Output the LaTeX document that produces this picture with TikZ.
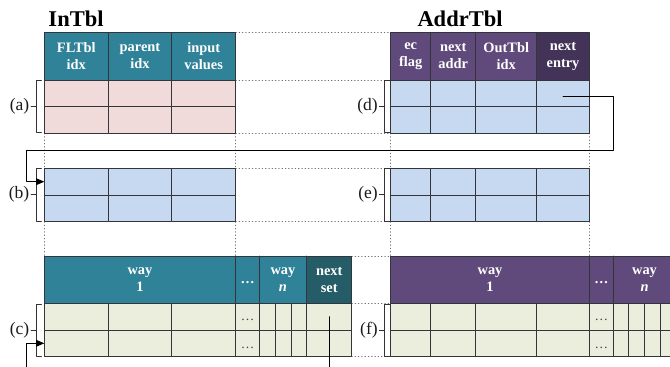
\documentclass[tikz,border=0pt]{standalone}
\usepackage{fontspec}
\newfontfamily\tblfont{Liberation Serif}
\usetikzlibrary{arrows}
\usetikzlibrary{positioning}

\definecolor{inhead}{RGB}{47,130,152}
\definecolor{inheaddk}{RGB}{36,92,104}
\definecolor{addrhead}{RGB}{96,74,124}
\definecolor{addrheaddk}{RGB}{67,51,88}
\definecolor{pinkrow}{RGB}{240,218,218}
\definecolor{bluerow}{RGB}{198,217,240}
\definecolor{greenrow}{RGB}{235,238,221}
\definecolor{gridln}{RGB}{50,54,58}

\tikzset{
  hdr/.style={text=white,font=\tblfont\bfseries\fontsize{14.4}{16.7}\selectfont,align=center,inner sep=0pt},
  hdots/.style={text=white,font=\tblfont\bfseries\fontsize{14}{15}\selectfont,inner sep=0pt},
  rdots/.style={text=black!75,font=\tblfont\fontsize{13.5}{15}\selectfont,inner sep=0pt},
  ttl/.style={font=\tblfont\bfseries\fontsize{22.5}{24}\selectfont,anchor=base west,inner sep=0pt},
  lbl/.style={font=\tblfont\fontsize{17.5}{20}\selectfont,inner sep=0pt,text=black!90},
  gridl/.style={draw=gridln,line width=0.9pt},
  guide/.style={draw=black!55,line width=0.7pt,dash pattern=on 0.7pt off 2.6pt},
  brk/.style={draw=black!80,line width=0.8pt},
  link/.style={->,line width=0.9pt},
}

\begin{document}
\begin{tikzpicture}[line cap=round,line join=round,>=triangle 45,x=1pt,y=-1pt]
\useasboundingbox (0,0) rectangle (670,367);
\clip (0,0) rectangle (670,367);

% dotted guides between the tables
\foreach \y in {32.3,80,133.3,168.3,221.7}
  \draw[guide] (235.7,\y) -- (390.7,\y);
\foreach \y in {256,303.3,356.7}
  \draw[guide] (351.7,\y) -- (390.7,\y);
\foreach \x in {44.3,235.7,390.7,589.3} {
  \draw[guide] (\x,133.3) -- (\x,168.3);
  \draw[guide] (\x,221.7) -- (\x,256);
}

% fills
\fill[inhead] (44.3,32.3) rectangle (235.7,80);
\fill[pinkrow] (44.3,80) rectangle (235.7,133.3);
\fill[addrhead] (390.7,32.3) rectangle (536.7,80);
\fill[addrheaddk] (536.7,32.3) rectangle (589.3,80);
\fill[bluerow] (390.7,80) rectangle (589.3,133.3);
\fill[bluerow] (44.3,168.3) rectangle (235.7,221.7);
\fill[bluerow] (390.7,168.3) rectangle (589.3,221.7);
\fill[inhead] (44.3,256) rectangle (306.7,303.3);
\fill[inheaddk] (306.7,256) rectangle (351.7,303.3);
\fill[greenrow] (44.3,303.3) rectangle (351.7,356.7);
\fill[addrhead] (390.7,256) rectangle (690,303.3);
\fill[greenrow] (390.7,303.3) rectangle (690,356.7);

% InTbl and (b)
\draw[gridl] (44.3,32.3) rectangle (235.7,133.3);
\foreach \x in {108.3,171.7}
  \draw[gridl] (\x,32.3) -- (\x,133.3);
\foreach \y in {80,106.7}
  \draw[gridl] (44.3,\y) -- (235.7,\y);
\draw[gridl] (44.3,168.3) rectangle (235.7,221.7);
\foreach \x in {108.3,171.7}
  \draw[gridl] (\x,168.3) -- (\x,221.7);
\draw[gridl] (44.3,195) -- (235.7,195);

% AddrTbl and (e)
\draw[gridl] (390.7,32.3) rectangle (589.3,133.3);
\foreach \x in {430.7,475.7,536.7}
  \draw[gridl] (\x,32.3) -- (\x,133.3);
\foreach \y in {80,106.7}
  \draw[gridl] (390.7,\y) -- (589.3,\y);
\draw[gridl] (390.7,168.3) rectangle (589.3,221.7);
\foreach \x in {430.7,475.7,536.7}
  \draw[gridl] (\x,168.3) -- (\x,221.7);
\draw[gridl] (390.7,195) -- (589.3,195);

% sets of ways (c)
\draw[gridl] (44.3,256) rectangle (351.7,356.7);
\foreach \x in {235.7,259.3,306.7}
  \draw[gridl] (\x,256) -- (\x,356.7);
\foreach \x in {108.3,171.7,275,291}
  \draw[gridl] (\x,303.3) -- (\x,356.7);
\foreach \y in {303.3,330}
  \draw[gridl] (44.3,\y) -- (351.7,\y);

% sets of ways (f)
\draw[gridl] (690,256) -- (390.7,256) -- (390.7,356.7) -- (690,356.7);
\foreach \x in {589.3,613.3}
  \draw[gridl] (\x,256) -- (\x,356.7);
\foreach \x in {430.7,475.7,536.7,628.7,644.3,660,675.7}
  \draw[gridl] (\x,303.3) -- (\x,356.7);
\foreach \y in {303.3,330}
  \draw[gridl] (390.7,\y) -- (690,\y);

% titles
\node[ttl] (inTitle) at (48.3,26.7) {InTbl};
\node[ttl] (addrTitle) at (417.3,26.7) {AddrTbl};

% header texts
\node[hdr] (inFl) at (76.3,56.2) {FLTbl\\idx};
\node[hdr] (inPar) at (140,56.2) {parent\\idx};
\node[hdr] (inVal) at (203.7,56.2) {input\\values};
\node[hdr] (adEc) at (410.7,56.2) {ec\\flag};
\node[hdr] (adNext) at (453.2,56.2) {next\\addr};
\node[hdr] (adOut) at (506.2,56.2) {OutTbl\\idx};
\node[hdr] (adEntry) at (563,56.2) {next\\entry};
\node[hdr] (cWay1) at (140,279.7) {way\\1};
\node[hdots] (cDots) at (247.5,283) {\dots};
\node[hdr] (cWayN) at (283,279.7) {way\\\textit{n}};
\node[hdr] (cNext) at (329.2,279.7) {next\\set};
\node[hdr] (fWay1) at (490,279.7) {way\\1};
\node[hdots] (fDots) at (601.3,283) {\dots};
\node[hdr] (fWayN) at (644.5,279.7) {way\\\textit{n}};

% dots in the rows
\node[rdots] (cDotsA) at (247.5,320) {\dots};
\node[rdots] (cDotsB) at (247.5,348) {\dots};
\node[rdots] (fDotsA) at (601.3,320) {\dots};
\node[rdots] (fDotsB) at (601.3,348) {\dots};

% brackets with labels
\foreach \n/\bx/\ya/\yb in {a/36/80.7/132.7,b/36/168.3/221.2,c/36/304.3/356.7,
                            d/384.4/80.7/132.7,e/384.4/168.3/221.2,f/384.4/304.3/356.7} {
  \draw[brk] (\bx+5.5,\ya) -- (\bx,\ya) -- (\bx,\yb) -- (\bx+5.5,\yb);
  \draw[brk] (\bx,{(\ya+\yb)/2}) -- (\bx-5,{(\ya+\yb)/2});
  \coordinate (brk\n) at (\bx-5,{(\ya+\yb)/2});
  \node[lbl,left=1.5pt of brk\n] (lbl\n) {(\n)};
}

% links between entries
\coordinate (entryD) at (563,96.7);
\coordinate (rowB) at (44.3,181.7);
\coordinate (setC) at (329.2,316.7);
\coordinate (rowC) at (44.3,343.3);
\draw[link] (entryD) -- (613.3,96.7) |- (26,150.7) |- (rowB);
\draw[link] (setC) -- (329.2,385) -| (26,343.3) -- (rowC);
\end{tikzpicture}
\end{document}
